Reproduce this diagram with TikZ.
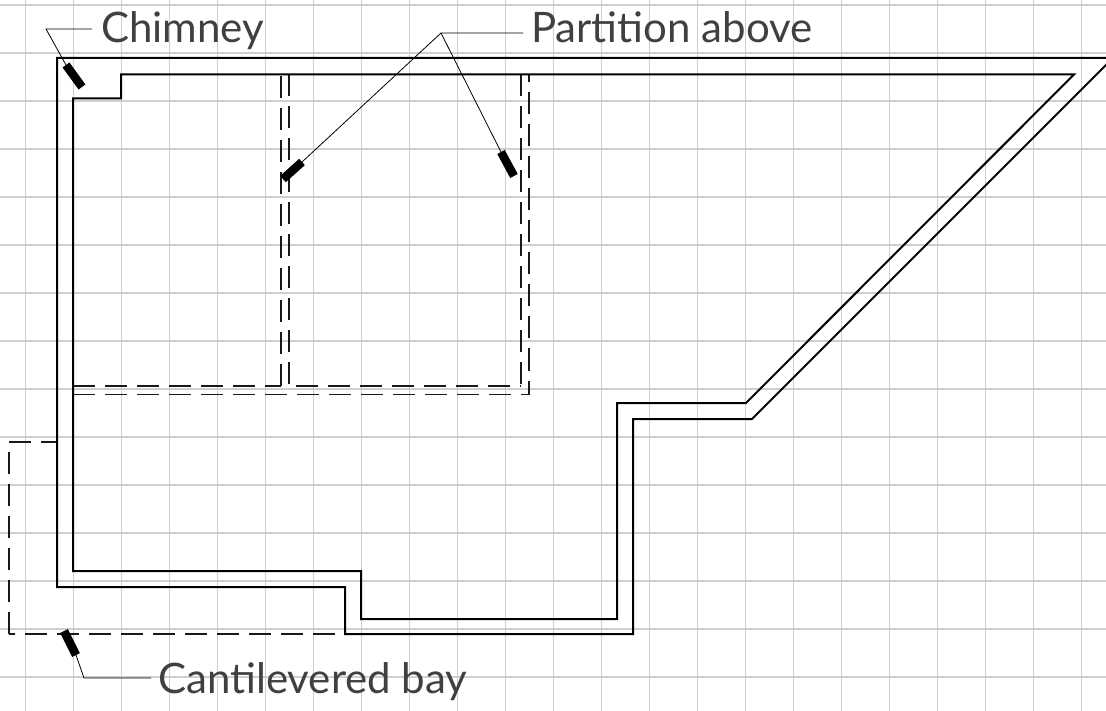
\documentclass[tikz,border=0pt]{standalone}
\usepackage{fontspec}
\setmainfont{Lato}
\tikzset{
  gridline/.style={draw=black!19, line width=1.1pt},
  wall/.style={draw=black, line width=2pt, line join=miter},
  hidden/.style={draw=black!90, line width=1.6pt, dash pattern=on 22pt off 10pt},
  leader/.style={draw=black, line width=0.8pt},
  tag/.style={draw=black, line width=8.5pt},
  callout/.style={anchor=west, inner sep=0pt, text height=38pt, text depth=10pt, text=black!75,
    font=\fontsize{42}{42}\selectfont},
}
\begin{document}
\begin{tikzpicture}[x=1pt, y=-1pt]
  \useasboundingbox (0,0) rectangle (1106,711);
  \fill[white] (0,0) rectangle (1106,711);

  % grid
  \foreach \gx in {0,...,22}
    \draw[gridline] ({25.5+48*\gx},0) -- ({25.5+48*\gx},711);
  \foreach \gy in {0,...,14}
    \draw[gridline] (0,{5+48*\gy}) -- (1106,{5+48*\gy});

  % partition and bay
  \draw[hidden] (73,386) -- (281,386);
  \draw[hidden] (281,386) -- (281,75);
  \draw[hidden] (289,384) -- (289,75);
  \draw[hidden] (296,386) -- (521,386);
  \draw[hidden] (521,384) -- (521,75);
  \draw[hidden] (73,394.5) -- (529,394.5) -- (529,75);
  \draw[hidden] (335,634) -- (9,634);
  \draw[hidden] (9,634) -- (9,442) -- (57,442);

  % walls
  \draw[wall] (57,58) -- (1113,58) -- (752,419) -- (633,419) -- (633,634) -- (345,634)
    -- (345,587) -- (57,587) -- cycle;
  \draw[wall] (121,74.5) -- (1074,74.5) -- (746,403) -- (617,403) -- (617,619) -- (361,619)
    -- (361,571) -- (73,571) -- (73,98.5) -- (121,98.5) -- cycle;

  % labels
  \node[callout] (chimney) at (101,29) {Chimney};
  \node[callout] (partition) at (531,29) {Partition above};
  \node[callout] (bay) at (158,679) {Cantilevered bay};

  % tags
  \coordinate (chimneya) at (66,65);
  \coordinate (chimneyb) at (82,87);
  \coordinate (chimneyk) at (46,29);
  \coordinate (partla) at (302,162);
  \coordinate (partlb) at (283,179);
  \coordinate (partra) at (501,152);
  \coordinate (partrb) at (514,176);
  \coordinate (partk) at (441,33);
  \coordinate (baya) at (64,631);
  \coordinate (bayb) at (76,655);
  \coordinate (bayk) at (84,678);
  \draw[tag] (chimneya) -- (chimneyb);
  \draw[tag] (partla) -- (partlb);
  \draw[tag] (partra) -- (partrb);
  \draw[tag] (baya) -- (bayb);

  % leaders
  \draw[leader] (chimney.west) ++(-9,0) -- (chimneyk) -- (chimneya);
  \draw[leader] (partition.west) ++(-8,4) -- (partk) -- (partla);
  \draw[leader] (partk) -- (partra);
  \draw[leader] (bay.west) ++(-7,-1) -- (bayk) -- (bayb);
\end{tikzpicture}
\end{document}
